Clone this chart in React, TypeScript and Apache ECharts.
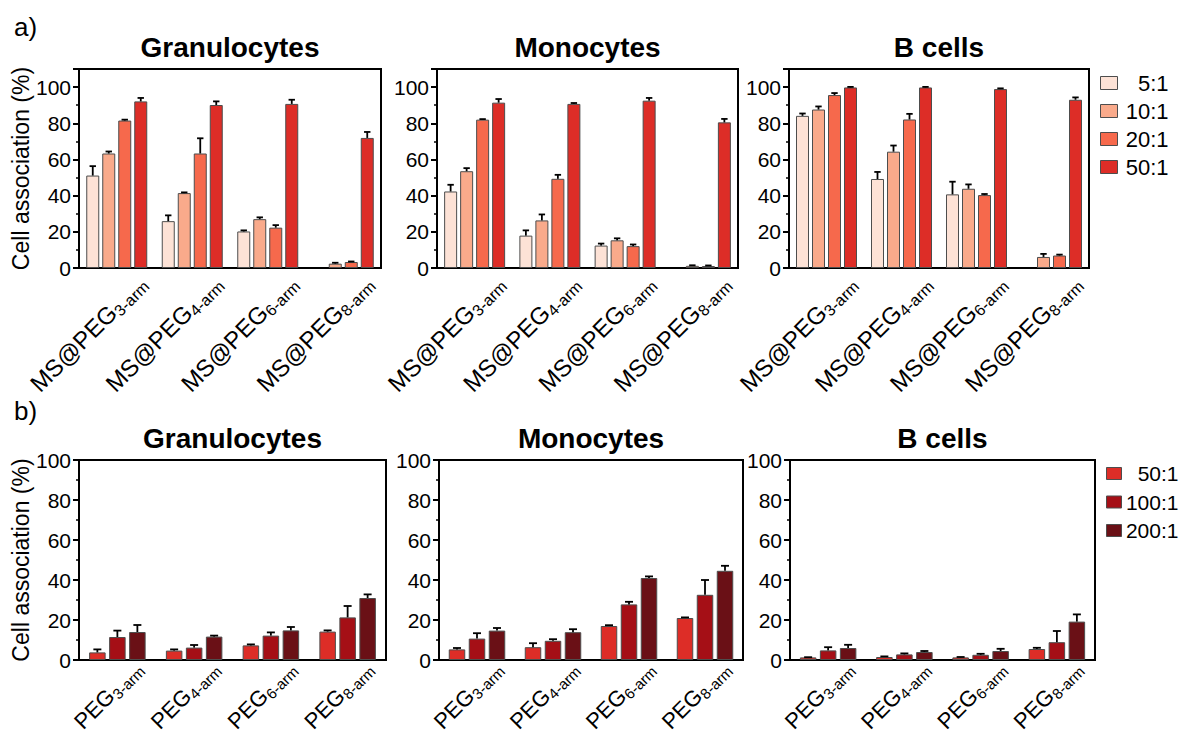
import React, { useEffect, useRef } from 'react';
import * as echarts from 'echarts';

const FONT = "'Liberation Sans', Arial, Helvetica, sans-serif";

const cellTypes = ['Granulocytes', 'Monocytes', 'B cells'];
const armLabels = ['3-arm', '4-arm', '6-arm', '8-arm'];
const topPrefix = 'MS@PEG';
const bottomPrefix = 'PEG';
const topCategories = armLabels.map((a) => topPrefix + a);
const bottomCategories = armLabels.map((a) => bottomPrefix + a);
const topRatios = ['5:1', '10:1', '20:1', '50:1'];
const bottomRatios = ['50:1', '100:1', '200:1'];
const topColors = ['#fde2d6', '#f9aa8b', '#f6694c', '#dd2d27'];
const bottomColors = ['#dd2d27', '#a50f16', '#6a1016'];
const yTitle = 'Cell association (%)';

// a) rows = ratios (5:1, 10:1, 20:1, 50:1), columns = arms (3, 4, 6, 8)
const granTopMeans = [
  [51.1, 25.9, 20.2, null],
  [63.3, 41.4, 27.0, 2.4],
  [81.5, 63.3, 22.3, 3.3],
  [92.1, 90.1, 90.7, 71.9],
];
const granTopSds = [
  [5.2, 3.2, 0.6, null],
  [1.1, 0.4, 1.0, 0.5],
  [0.5, 8.4, 1.4, 0.3],
  [1.9, 2.0, 2.3, 3.3],
];
const monoTopMeans = [
  [42.3, 17.9, 12.4, null],
  [53.5, 26.3, 15.3, 1.2],
  [82.0, 49.3, 12.1, 1.1],
  [91.4, 90.7, 92.5, 80.5],
];
const monoTopSds = [
  [3.7, 2.9, 1.1, null],
  [1.7, 3.3, 1.1, 0.3],
  [0.3, 2.2, 0.9, 0.3],
  [2.0, 0.5, 1.5, 1.9],
];
const bTopMeans = [
  [84.1, 49.2, 40.7, null],
  [87.6, 64.3, 43.8, 6.1],
  [95.6, 82.1, 40.3, 6.9],
  [99.8, 99.8, 98.9, 93.0],
];
const bTopSds = [
  [1.3, 3.9, 7.0, null],
  [1.7, 3.4, 2.4, 1.7],
  [1.1, 3.1, 0.6, 0.5],
  [0.3, 0.3, 0.4, 1.3],
];

// b) rows = ratios (50:1, 100:1, 200:1)
const granBotMeans = [
  [3.8, 4.7, 7.3, 14.2],
  [11.5, 6.2, 12.2, 21.3],
  [14.0, 11.7, 14.8, 31.0],
];
const granBotSds = [
  [1.5, 0.6, 0.5, 0.6],
  [3.2, 1.3, 1.6, 5.7],
  [3.5, 0.5, 1.7, 1.8],
];
const monoBotMeans = [
  [5.3, 6.4, 17.0, 21.0],
  [10.7, 9.6, 27.8, 32.6],
  [14.7, 13.9, 41.0, 44.6],
];
const monoBotSds = [
  [0.7, 2.0, 0.4, 0.3],
  [2.7, 0.8, 1.3, 7.4],
  [1.3, 1.5, 0.8, 2.5],
];
const bBotMeans = [
  [1.3, 1.5, 1.3, 5.5],
  [4.8, 2.8, 2.6, 8.9],
  [6.0, 4.0, 4.5, 19.2],
];
const bBotSds = [
  [0.1, 0.3, 0.2, 0.6],
  [1.6, 0.5, 0.5, 5.6],
  [1.6, 0.5, 1.1, 3.6],
];

const topYTicks = { min: 0, max: 110, interval: 20 };
const bottomYTicks = { min: 0, max: 100, interval: 20 };

type Panel = { means: (number | null)[][]; sds: (number | null)[][] };

const topPanels: Panel[] = [
  { means: granTopMeans, sds: granTopSds },
  { means: monoTopMeans, sds: monoTopSds },
  { means: bTopMeans, sds: bTopSds },
];
const bottomPanels: Panel[] = [
  { means: granBotMeans, sds: granBotSds },
  { means: monoBotMeans, sds: monoBotSds },
  { means: bBotMeans, sds: bBotSds },
];

const topGrids = [
  { left: 79, top: 69, width: 302, height: 199 },
  { left: 437, top: 69, width: 301, height: 199 },
  { left: 789, top: 69, width: 300, height: 199 },
];
const bottomGrids = [
  { left: 79, top: 460, width: 307, height: 200 },
  { left: 439, top: 460, width: 304, height: 200 },
  { left: 790, top: 460, width: 305, height: 200 },
];

function buildOption() {
  const grid: any[] = [];
  const xAxis: any[] = [];
  const yAxis: any[] = [];
  const series: any[] = [];
  const graphic: any[] = [];

  const addRow = (
    panels: Panel[],
    grids: any[],
    categories: string[],
    prefix: string,
    ratios: string[],
    colors: string[],
    yTicks: { min: number; max: number; interval: number },
    barWidth: number,
    gapPx: number,
    capHalf: number,
    titleY: number,
    labelMargin: number,
    labelShift: number,
    mainSize: number,
    subSize: number
  ) => {
    panels.forEach((p, pi) => {
      const idx = grid.length;
      const g = grids[pi];
      grid.push({
        left: g.left,
        top: g.top,
        width: g.width,
        height: g.height,
        containLabel: false,
        outerBoundsMode: 'none',
        show: true,
        borderColor: '#000',
        borderWidth: 2,
        backgroundColor: 'transparent',
      });
      xAxis.push({
        type: 'category',
        gridIndex: idx,
        data: categories,
        axisLine: { lineStyle: { color: '#000', width: 2 } },
        axisTick: { alignWithLabel: true, length: 6, interval: 0, lineStyle: { color: '#000', width: 2 } },
        splitLine: { show: false },
        axisLabel: {
          interval: 0,
          rotate: 45,
          margin: labelMargin,
          padding: [0, -labelShift, 0, 0],
          formatter: (v: string) => `{m|${prefix}}{s|${v.slice(prefix.length)}}`,
          rich: {
            m: { fontSize: mainSize, fontFamily: FONT, color: '#000', lineHeight: mainSize + 4 },
            s: { fontSize: subSize, fontFamily: FONT, color: '#000', lineHeight: subSize - 2, verticalAlign: 'bottom' },
          },
        },
      });
      yAxis.push({
        type: 'value',
        gridIndex: idx,
        min: yTicks.min,
        max: yTicks.max,
        interval: yTicks.interval,
        name: pi === 0 ? yTitle : '',
        nameLocation: 'middle',
        nameGap: 42,
        nameTextStyle: { fontSize: 23, fontFamily: FONT, color: '#000' },
        axisLine: { show: true, lineStyle: { color: '#000', width: 2 } },
        axisTick: { show: true, length: 6, lineStyle: { color: '#000', width: 2 } },
        minorTick: { show: true, splitNumber: 2, length: 3, lineStyle: { color: '#000', width: 1.5 } },
        splitLine: { show: false },
        minorSplitLine: { show: false },
        axisLabel: {
          fontSize: 21,
          fontFamily: FONT,
          color: '#000',
          margin: 8,
          showMaxLabel: yTicks.max % yTicks.interval === 0,
        },
      });
      ratios.forEach((r, ri) => {
        series.push({
          type: 'bar',
          name: r,
          xAxisIndex: idx,
          yAxisIndex: idx,
          barWidth,
          barGap: `${(gapPx / barWidth) * 100}%`,
          itemStyle: { color: colors[ri], borderColor: '#4d4d4d', borderWidth: 1 },
          data: p.means[ri].map((v) => (v == null ? '-' : v)),
        });
      });
      ratios.forEach((r, ri) => {
        const offset = (ri - (ratios.length - 1) / 2) * (barWidth + gapPx);
        const data = p.means[ri]
          .map((m, i) => (m == null ? null : [i, m, p.sds[ri][i] as number]))
          .filter((d) => d != null);
        series.push({
          type: 'custom',
          name: 'err-' + r,
          xAxisIndex: idx,
          yAxisIndex: idx,
          z: 5,
          encode: { x: 0, y: 1 },
          data,
          renderItem: (params: any, api: any) => {
            const xi = api.value(0);
            const m = api.value(1);
            const s = api.value(2);
            const base = api.coord([xi, m]);
            const top = api.coord([xi, m + s]);
            const cx = base[0] + offset;
            const st = { stroke: '#000', lineWidth: 1.8 };
            return {
              type: 'group',
              children: [
                { type: 'line', shape: { x1: cx, y1: base[1], x2: cx, y2: top[1] }, style: st },
                { type: 'line', shape: { x1: cx - capHalf, y1: top[1], x2: cx + capHalf, y2: top[1] }, style: st },
              ],
            };
          },
        });
      });
      graphic.push({
        type: 'text',
        x: g.left + g.width / 2,
        y: titleY,
        style: {
          text: cellTypes[pi],
          fontSize: 28,
          fontWeight: 'bold',
          fontFamily: FONT,
          fill: '#000',
          align: 'center',
          verticalAlign: 'middle',
        },
      });
    });
  };

  addRow(topPanels, topGrids, topCategories, topPrefix, topRatios, topColors, topYTicks, 13, 3, 3.2, 47, 37, 36, 24, 16);
  addRow(bottomPanels, bottomGrids, bottomCategories, bottomPrefix, bottomRatios, bottomColors, bottomYTicks, 16.5, 3.5, 4, 438, 26, 30, 22, 15);

  graphic.push({
    type: 'text',
    x: 14,
    y: 27,
    style: { text: 'a)', fontSize: 26, fontFamily: FONT, fill: '#000', align: 'left', verticalAlign: 'middle' },
  });
  graphic.push({
    type: 'text',
    x: 14,
    y: 411,
    style: { text: 'b)', fontSize: 26, fontFamily: FONT, fill: '#000', align: 'left', verticalAlign: 'middle' },
  });

  const legendBase = {
    orient: 'vertical',
    icon: 'rect',
    selectedMode: false,
    formatter: (n: string) => `{r|${n}}`,
  };

  const legend = [
    {
      ...legendBase,
      data: topRatios,
      left: 1095,
      top: 67,
      itemWidth: 17,
      itemHeight: 13,
      itemGap: 6,
      itemStyle: { borderColor: '#4d4d4d', borderWidth: 1 },
      textStyle: {
        rich: { r: { width: 46, align: 'right', fontSize: 22, lineHeight: 24, fontFamily: FONT, color: '#000' } },
      },
    },
    {
      ...legendBase,
      data: bottomRatios,
      left: 1101,
      top: 458,
      itemWidth: 15,
      itemHeight: 12,
      itemGap: 7.5,
      itemStyle: { borderColor: '#4d4d4d', borderWidth: 1 },
      textStyle: {
        rich: { r: { width: 52, align: 'right', fontSize: 21, lineHeight: 24, fontFamily: FONT, color: '#000' } },
      },
    },
  ];

  return {
    animation: false,
    backgroundColor: '#fff',
    textStyle: { fontFamily: FONT },
    grid,
    xAxis,
    yAxis,
    series,
    legend,
    graphic,
  };
}

export default function App() {
  const ref = useRef<HTMLDivElement>(null);
  useEffect(() => {
    document.body.style.margin = '0';
    if (!ref.current) return;
    const chart = echarts.init(ref.current, undefined, { renderer: 'svg' });
    chart.setOption(buildOption() as any);
    return () => {
      chart.dispose();
    };
  }, []);
  return (
    <div
      ref={ref}
      style={{ position: 'absolute', left: 0, top: 0, width: 1181, height: 737, background: '#fff' }}
    />
  );
}
